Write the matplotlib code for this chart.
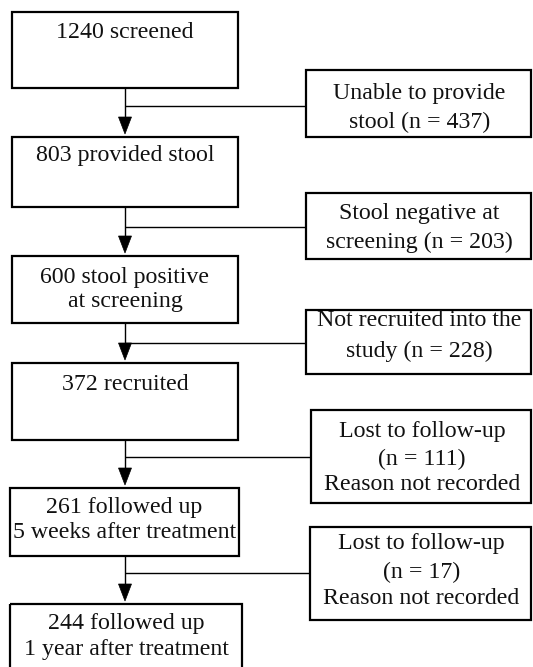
import matplotlib
matplotlib.use("Agg")
import matplotlib.pyplot as plt
from matplotlib.patches import Rectangle, Polygon

# ---- content ----
main_steps = [
    ["1240 screened"],
    ["803 provided stool"],
    ["600 stool positive", "at screening"],
    ["372 recruited"],
    ["261 followed up", "5 weeks after treatment"],
    ["244 followed up", "1 year after treatment"],
]
exclusions = [
    ["Unable to provide", "stool (n = 437)"],
    ["Stool negative at", "screening (n = 203)"],
    ["Not recruited into the", "study (n = 228)"],
    ["Lost to follow-up", "(n = 111)", "Reason not recorded"],
    ["Lost to follow-up", "(n = 17)", "Reason not recorded"],
]

# ---- layout (pixels, y downward) ----
W, H = 533, 667
main_boxes = [  # x0, x1, y0, y1
    (12, 238, 12, 88),
    (12, 238, 137, 207),
    (12, 238, 256, 323),
    (12, 238, 363, 440),
    (10, 239, 488, 556),
    (10, 242, 604, 690),
]
main_text_y = [
    [33],
    [156],
    [277, 302],
    [385],
    [507, 533],
    [623, 650],
]
excl_boxes = [
    (306, 531, 70, 137),
    (306, 531, 193, 259),
    (306, 531, 310, 374),
    (311, 531, 410, 503),
    (310, 531, 527, 620),
]
excl_text_y = [
    [94, 122],
    [213, 242],
    [321, 351],
    [431, 459, 485],
    [544, 572, 599],
]
branch_y = [106, 227, 343, 457, 573]
stem_x = 125

fig = plt.figure(figsize=(W / 100, H / 100), dpi=100)
ax = fig.add_axes([0, 0, 1, 1])
ax.set_xlim(0, W)
ax.set_ylim(H, 0)
ax.axis("off")

font = dict(family=["Liberation Serif", "DejaVu Serif"], fontsize=17.2, color="#111111",
            ha="center", va="center")
box_lw = 1.6
line_lw = 1.0

def box(b):
    x0, x1, y0, y1 = b
    ax.add_patch(Rectangle((x0, y0), x1 - x0, y1 - y0, fill=False,
                           edgecolor="black", linewidth=box_lw, clip_on=False))

for b, lines, ys in zip(main_boxes, main_steps, main_text_y):
    box(b)
    cx = (b[0] + b[1]) / 2
    for t, y in zip(lines, ys):
        ax.text(cx, y, t, **font)

for b, lines, ys in zip(excl_boxes, exclusions, excl_text_y):
    box(b)
    cx = (b[0] + b[1]) / 2 + 1
    for t, y in zip(lines, ys):
        ax.text(cx, y, t, **font)

# connectors
for i in range(len(main_boxes) - 1):
    y_start = main_boxes[i][3]
    y_end = main_boxes[i + 1][2] - 3
    head_h = 17
    ax.plot([stem_x, stem_x], [y_start, y_end - head_h], color="black", lw=line_lw,
            solid_capstyle="butt")
    ax.add_patch(Polygon([[stem_x - 6.5, y_end - head_h], [stem_x + 6.5, y_end - head_h],
                          [stem_x, y_end]], closed=True, facecolor="black",
                         edgecolor="black", lw=0.5))
    ax.plot([stem_x, excl_boxes[i][0]], [branch_y[i], branch_y[i]], color="black",
            lw=line_lw, solid_capstyle="butt")

fig.savefig("out.png", dpi=100, facecolor="white")
